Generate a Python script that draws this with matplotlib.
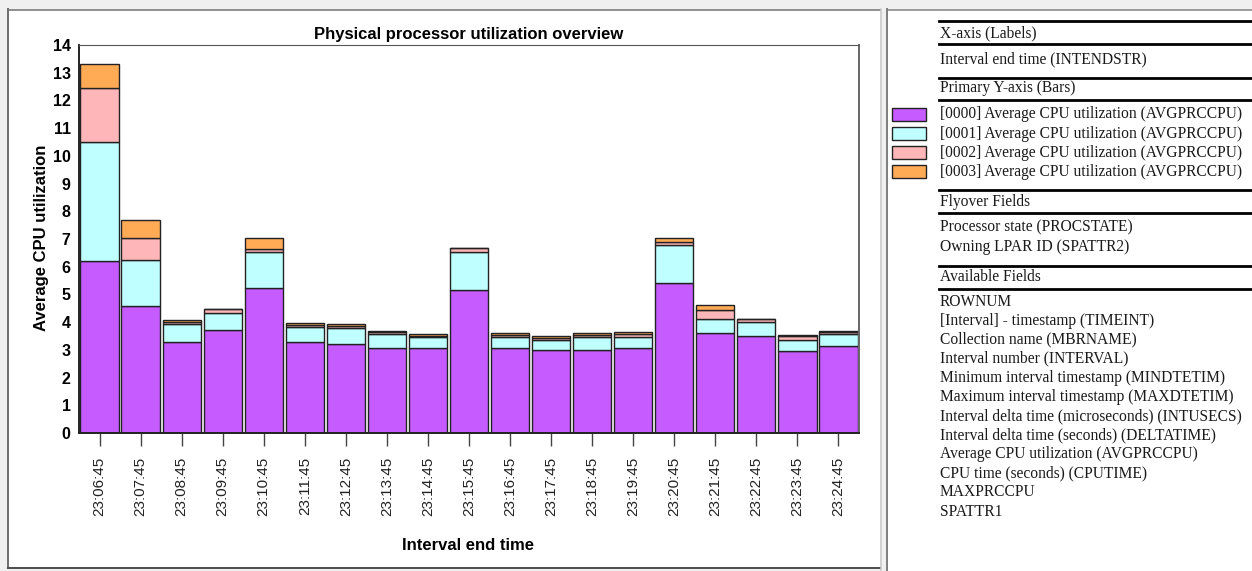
import matplotlib
matplotlib.use("Agg")
import matplotlib.pyplot as plt
from matplotlib.patches import Rectangle
from matplotlib.lines import Line2D

# interval end times (x-axis labels)
times = ["23:06:45", "23:07:45", "23:08:45", "23:09:45", "23:10:45",
         "23:11:45", "23:12:45", "23:13:45", "23:14:45", "23:15:45",
         "23:16:45", "23:17:45", "23:18:45", "23:19:45", "23:20:45",
         "23:21:45", "23:22:45", "23:23:45", "23:24:45"]

# average CPU utilization per processor, stacked
cpu0000 = [6.20, 4.57, 3.29, 3.71, 5.22, 3.29, 3.20, 3.06, 3.06, 5.16,
           3.08, 2.98, 3.00, 3.08, 5.42, 3.60, 3.50, 2.95, 3.14]
cpu0001 = [4.29, 1.66, 0.63, 0.62, 1.31, 0.54, 0.58, 0.50, 0.39, 1.36,
           0.37, 0.38, 0.45, 0.40, 1.38, 0.50, 0.51, 0.41, 0.44]
cpu0002 = [1.96, 0.81, 0.08, 0.14, 0.11, 0.08, 0.08, 0.07, 0.05, 0.14,
           0.09, 0.08, 0.09, 0.08, 0.10, 0.33, 0.09, 0.13, 0.05]
cpu0003 = [0.85, 0.65, 0.06, 0.02, 0.41, 0.06, 0.06, 0.06, 0.06, 0.02,
           0.07, 0.06, 0.06, 0.08, 0.14, 0.18, 0.03, 0.06, 0.06]

series = [cpu0000, cpu0001, cpu0002, cpu0003]
series_names = ["[0000] Average CPU utilization (AVGPRCCPU)",
                "[0001] Average CPU utilization (AVGPRCCPU)",
                "[0002] Average CPU utilization (AVGPRCCPU)",
                "[0003] Average CPU utilization (AVGPRCCPU)"]
colors = ["#c65bff", "#bfffff", "#ffb6b8", "#ffaa55"]

flyover = ["Processor state (PROCSTATE)", "Owning LPAR ID (SPATTR2)"]
available = ["ROWNUM", "[Interval] - timestamp (TIMEINT)",
             "Collection name (MBRNAME)", "Interval number (INTERVAL)",
             "Minimum interval timestamp (MINDTETIM)",
             "Maximum interval timestamp (MAXDTETIM)",
             "Interval delta time (microseconds) (INTUSECS)",
             "Interval delta time (seconds) (DELTATIME)",
             "Average CPU utilization (AVGPRCCPU)",
             "CPU time (seconds) (CPUTIME)", "MAXPRCCPU", "SPATTR1"]

W, H = 1252, 571
fig = plt.figure(figsize=(W / 100, H / 100), dpi=100, facecolor="#f0f0f0")


def fx(px):
    return px / W


def fy(py):
    return 1 - py / H


# panel backgrounds and frame lines
fig.patches.append(Rectangle((fx(9), fy(568)), fx(871), 558 / H,
                             transform=fig.transFigure, facecolor="white",
                             edgecolor="none", zorder=-10))
fig.patches.append(Rectangle((fx(888), 0), fx(364), fy(10),
                             transform=fig.transFigure, facecolor="white",
                             edgecolor="none", zorder=-10))
for xs, ys, c, lw in [([8, 8], [9, 568], "#707070", 2),
                      ([8, 880], [9.5, 9.5], "#707070", 1.5),
                      ([8, 880], [568, 568], "#505050", 2),
                      ([881, 881], [9, 571], "#c8c8c8", 1.5),
                      ([887, 887], [9, 571], "#808080", 2),
                      ([887, 1252], [9.5, 9.5], "#808080", 1.5)]:
    fig.add_artist(Line2D([fx(x) for x in xs], [fy(y) for y in ys],
                          color=c, lw=lw * 0.72, transform=fig.transFigure))

# chart
ax = fig.add_axes([fx(79), fy(433), fx(780), 388 / H])
ax.set_zorder(5)
sans = "Liberation Sans"
x = range(len(times))
bottom = [0] * len(times)
for vals, col in zip(series, colors):
    ax.bar(x, vals, bottom=bottom, width=0.93, color=col,
           edgecolor="#222222", linewidth=1.0)
    bottom = [b + v for b, v in zip(bottom, vals)]

ax.set_xlim(-0.5, len(times) - 0.5)
ax.set_ylim(0, 14)
ax.set_yticks(range(0, 15))
ax.set_yticklabels([str(i) for i in range(15)], fontfamily=sans,
                   fontweight="bold", fontsize=11.5)
ax.set_xticks(list(x))
ax.set_xticklabels(times, rotation=90, fontfamily=sans, fontsize=11,
                   color="#222222")
ax.tick_params(axis="y", length=0, pad=6)
ax.tick_params(axis="x", length=9, width=1, color="#444444", pad=8)
ax.spines["left"].set_color("#222222")
ax.spines["bottom"].set_color("#222222")
ax.spines["left"].set_linewidth(1.4)
ax.spines["bottom"].set_linewidth(1.4)
ax.spines["top"].set_color("#555555")
ax.spines["right"].set_color("#666666")
ax.spines["right"].set_linewidth(1.4)

fig.text(fx(469), fy(34), "Physical processor utilization overview",
         ha="center", va="center", fontfamily=sans, fontweight="bold",
         fontsize=12)
fig.text(fx(42), fy(238), "Average CPU utilization", rotation=90,
         ha="center", va="center", fontfamily=sans, fontweight="bold",
         fontsize=12)
fig.text(fx(468), fy(545), "Interval end time", ha="center", va="center",
         fontfamily=sans, fontweight="bold", fontsize=12)

# right-hand field panel
serif = "Liberation Serif"
fs = 11.2


def rule(py):
    fig.add_artist(Line2D([fx(939), fx(1252)], [fy(py), fy(py)],
                          color="black", lw=2.0, transform=fig.transFigure))


def label(py, s):
    fig.text(fx(940), fy(py), s, ha="left", va="center", fontfamily=serif,
             fontsize=fs, color="#1a1a1a")


for py in [21, 43.5, 77.5, 99.5, 190, 212.5, 265.5, 288.5]:
    rule(py)
label(33, "X-axis (Labels)")
label(59, "Interval end time (INTENDSTR)")
label(88.5, "Primary Y-axis (Bars)")
for i, (name, col) in enumerate(zip(series_names, colors)):
    py = 114.5 + i * 19.1
    label(py, name)
    fig.patches.append(Rectangle((fx(892), fy(py + 6.5)), fx(34), 13 / H,
                                 transform=fig.transFigure, facecolor=col,
                                 edgecolor="#222222", linewidth=1.0))
label(201.5, "Flyover Fields")
for i, s in enumerate(flyover):
    label(227.5 + i * 19.1, s)
label(276.5, "Available Fields")
for i, s in enumerate(available):
    label(301.5 + i * 19.1, s)

fig.savefig("out.png", dpi=100, facecolor=fig.get_facecolor())
